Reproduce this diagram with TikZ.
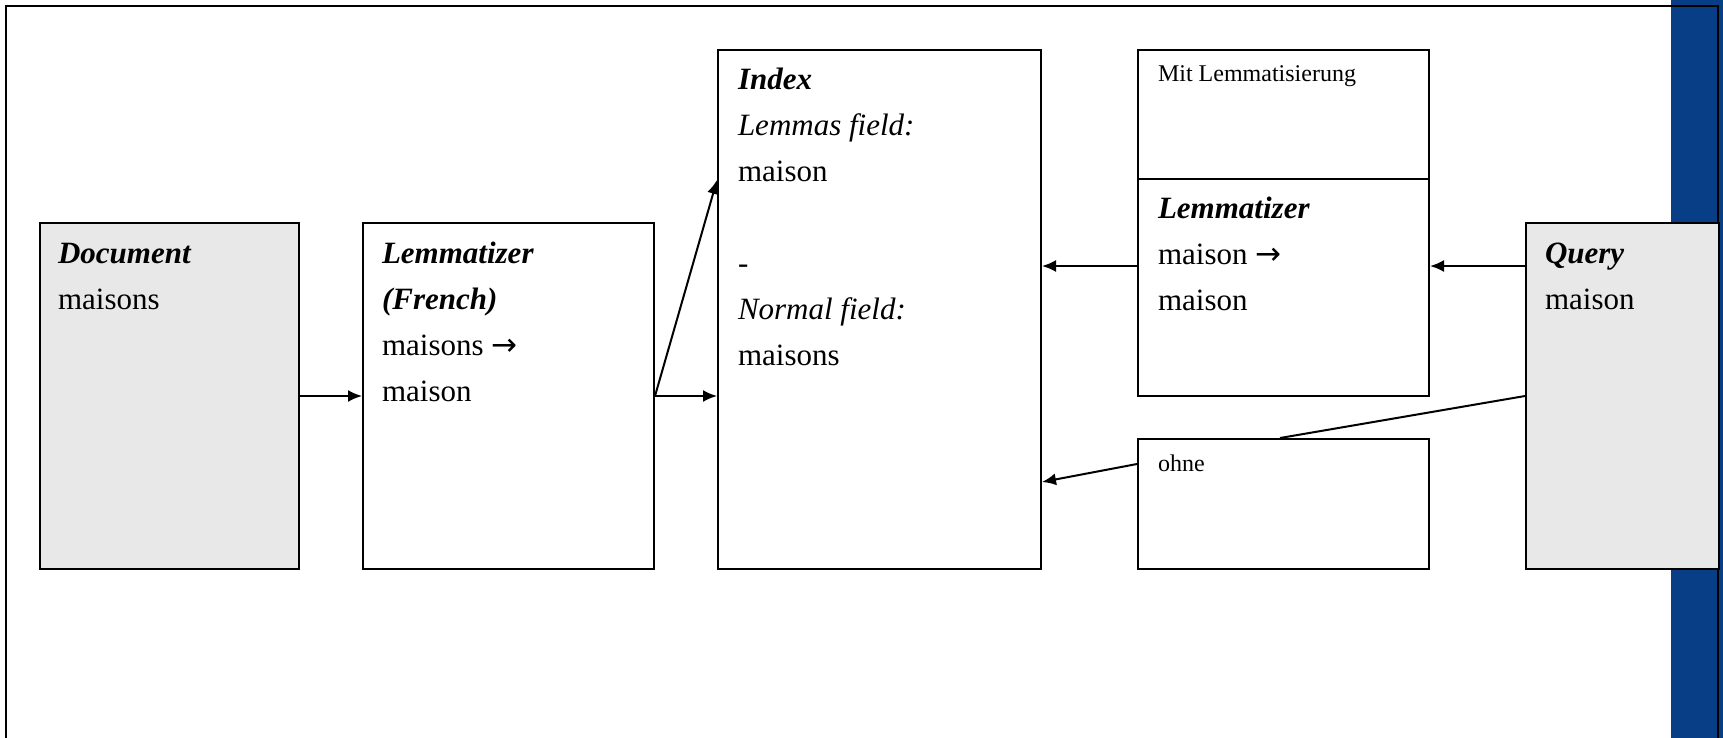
\documentclass[tikz,border=0pt]{standalone}
\usepackage{fontspec}
\setmainfont{Liberation Serif}
\newfontfamily\arrowfont{DejaVu Sans}
\usetikzlibrary{arrows.meta,calc}
\definecolor{boxgray}{RGB}{232,232,232}
\definecolor{barblue}{RGB}{8,62,134}
\tikzset{>={Latex[length=7pt,width=6pt]}}
\tikzset{
  box/.style={draw,line width=1pt,inner sep=0pt,anchor=north west},
  txt/.style={anchor=base west,inner sep=0pt,align=left,font=\fontsize{15.5}{23}\selectfont},
  smalltxt/.style={anchor=base west,inner sep=0pt,font=\fontsize{12}{14}\selectfont},
}
\newcommand{\hd}[1]{\textbf{\textit{#1}}}
\newcommand{\lemarrow}{{\arrowfont →}}

\begin{document}
\begin{tikzpicture}[x=0.5pt,y=-0.5pt,line width=1pt]
            \useasboundingbox (0,0) rectangle (1723,738);
            \clip (0,0) rectangle (1723,738);
            % frame and side bar
            \fill[barblue] (1671,0) rectangle (1723,738);
            \draw (6,6) rectangle (1718,760);
            % boxes
            \node[box,fill=boxgray,minimum width=129.5pt,minimum height=173pt] (doc) at (39,222) {};
            \node[box,minimum width=145.5pt,minimum height=173pt] (lemfr) at (362,222) {};
            \node[box,minimum width=161.5pt,minimum height=259.5pt] (idx) at (717,49) {};
            \node[box,minimum width=145.5pt,minimum height=64.5pt] (mit) at (1137,49) {};
            \node[box,minimum width=145.5pt,minimum height=108.5pt] (lemq) at (1137,178) {};
            \node[box,minimum width=145.5pt,minimum height=65pt] (ohne) at (1137,438) {};
            \node[box,fill=boxgray,minimum width=96.5pt,minimum height=173pt] (query) at (1525,222) {};
            % texts (placed at the baseline of their last line)
            \node[txt] (doctxt) at (57,309) {\hd{Document}\\maisons};
            \node[txt] (lemfrtxt) at (381,401) {\hd{Lemmatizer}\\\hd{(French)}\\maisons \lemarrow\\maison};
            \node[txt] (idxtxt) at (737,365) {\hd{Index}\\\textit{Lemmas field:}\\maison\\[23pt]-\\\textit{Normal field:}\\maisons};
            \node[smalltxt] (mittxt) at (1157,82) {Mit Lemmatisierung};
            \node[txt] (lemqtxt) at (1157,310) {\hd{Lemmatizer}\\maison \lemarrow\\maison};
            \node[smalltxt] (ohnetxt) at (1157,471) {ohne};
            \node[txt] (querytxt) at (1544,309) {\hd{Query}\\maison};
            % connectors
            \draw[->] (doc.east) -- (lemfr.west);
            \draw[->] (lemfr.east) -- (lemfr.east -| idx.west);
            \draw[->] (lemfr.east) -- ($(idx.north west)+(0,131)$);
            \coordinate (qa) at ($(query.north west)+(0,44)$);
            \draw[->] (qa) -- (qa -| lemq.east);
            \draw[->] (qa -| lemq.west) -- (qa -| idx.east);
            \draw (query.west) -- ($(ohne.north west)+(143,0)$);
            \draw[->] ($(ohne.north west)+(0,26)$) -- ($(idx.south east)+(0,-88)$);
        \end{tikzpicture}
\end{document}
